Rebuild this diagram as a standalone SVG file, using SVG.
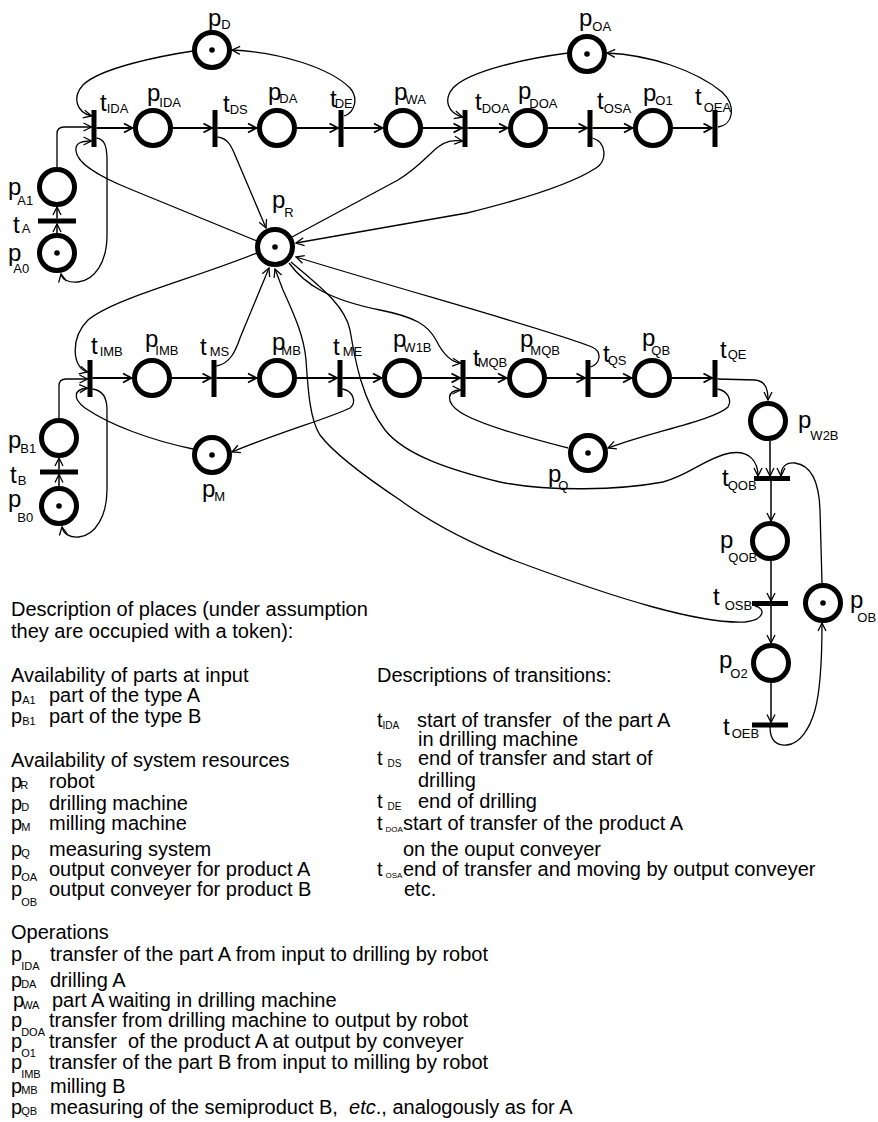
<svg xmlns="http://www.w3.org/2000/svg" width="878" height="1122" viewBox="0 0 878 1122">
<style>
.pl{fill:#fff;stroke:#000;stroke-width:5}
.tk{fill:#000}
.tr{fill:#000}
.arc{fill:none;stroke:#000;stroke-width:1.3;marker-end:url(#a)}
.mn{fill:none;stroke:#000;stroke-width:2;marker-end:url(#m)}
.vn{fill:none;stroke:#000;stroke-width:1.5;marker-end:url(#a)}
.lb{font-family:"Liberation Sans",Arial,sans-serif;font-size:24px;fill:#000}
.sb{font-size:13px}
.d{font-family:"Liberation Sans",Arial,sans-serif;font-size:20px;fill:#000;white-space:pre}
.ds{font-size:11px}
.dt{font-size:10px}
.dv{font-size:8px}
</style>
<defs>
<marker id="a" viewBox="-10 -6 12 12" refX="0" refY="0" markerWidth="12" markerHeight="12" markerUnits="userSpaceOnUse" orient="auto"><path d="M-8,-4 L0,0 L-8,4" fill="none" stroke="#000" stroke-width="1.3"/></marker>
<marker id="m" viewBox="-11 -6 13 12" refX="0" refY="0" markerWidth="13" markerHeight="12" markerUnits="userSpaceOnUse" orient="auto"><path d="M-9,-4.5 L-0.5,0 L-9,4.5" fill="none" stroke="#000" stroke-width="1.8"/></marker>
</defs>

<g id="connectors">
<path class="mn" d="M96.5,128 L133,128"/>
<path class="mn" d="M173,128 L212.5,128"/>
<path class="mn" d="M217.5,128 L257,128"/>
<path class="mn" d="M297,128 L338.5,128"/>
<path class="mn" d="M343.5,128 L383,128"/>
<path class="mn" d="M423,128 L462.5,128"/>
<path class="mn" d="M467.5,128 L508,128"/>
<path class="mn" d="M548,128 L587.5,128"/>
<path class="mn" d="M592.5,128 L633,128"/>
<path class="mn" d="M673,128 L712.5,128"/>
<path class="mn" d="M92.5,378 L132,378"/>
<path class="mn" d="M172,378 L211.5,378"/>
<path class="mn" d="M216.5,378 L257,378"/>
<path class="mn" d="M297,378 L337.5,378"/>
<path class="mn" d="M342.5,378 L382,378"/>
<path class="mn" d="M422,378 L460.5,378"/>
<path class="mn" d="M465.5,378 L507,378"/>
<path class="mn" d="M547,378 L585.5,378"/>
<path class="mn" d="M590.5,378 L632,378"/>
<path class="mn" d="M672,378 L712.5,378"/>
<path class="vn" d="M57,233 L57,224"/>
<path class="vn" d="M57,218.5 L57,207"/>
<path class="vn" d="M59,486 L59,474.5"/>
<path class="vn" d="M59,469.5 L59,458"/>
<path class="vn" d="M770,441 L770,476"/>
<path class="vn" d="M771,481 L771,521"/>
<path class="vn" d="M771,561 L771,601"/>
<path class="vn" d="M771,606 L771,643"/>
<path class="vn" d="M771,683 L771,722.5"/>
<path class="arc" d="M193,51 C160,56 100,68 83,85 C72,97 76,112 91.5,116"/>
<path class="arc" d="M344,116 C356,112 358,97 350,88 C330,68 280,52 232,50"/>
<path class="arc" d="M568,53 C530,58 470,70 453,88 C443,100 448,113 462.5,117"/>
<path class="arc" d="M718,127 C733,125 737,106 722,92 C695,70 650,55 607,53"/>
<path class="arc" d="M57,167 L57,134 Q57,127 64,127 L91.5,127"/>
<path class="arc" d="M96.5,138 C104,139 107,145 107,160 L107,235 C107,262 95,280 78,282 C68,283 62,279 61,274"/>
<path class="arc" d="M257,241 L130,189 C100,177 77,163 76,151 C75,143 81,141 91.5,141"/>
<path class="arc" d="M217.5,137 C227,138 231,145 235,155 L266,228"/>
<path class="arc" d="M292,237 L398,180 C418,168 428,155 438,147 C446,141 452,140 462.5,141"/>
<path class="arc" d="M592.5,138 C606,142 608,160 596,168 C570,185 520,200 467,213 L296,243"/>
<path class="arc" d="M257,253 C190,280 115,298 88,320 C70,338 72,368 87.5,372"/>
<path class="arc" d="M216.5,366 C230,364 236,350 240,338 L269,268"/>
<path class="arc" d="M59,418 L59,386 Q59,379 66,379 L87.5,379"/>
<path class="arc" d="M193,449 C150,440 110,425 85,408 C72,398 74,389 87.5,388"/>
<path class="arc" d="M92.5,389 C101,390 107,395 107,410 L107,490 C107,515 96,535 79,537 C69,538 63,533 62,527"/>
<path class="arc" d="M342.5,389 C353,391 357,402 350,408 C330,418 280,432 232,452"/>
<path class="arc" d="M289,263 C305,285 330,300 380,310 C415,317 428,325 436,340 C442,352 450,362 460.5,363"/>
<path class="arc" d="M590.5,367 C600,364 603,352 592,347 C550,330 420,295 296,257"/>
<path class="arc" d="M291,262 C318,285 345,305 350,330 C355,360 362,400 385,430 C405,455 450,470 500,482 C550,492 620,490 663,482 C690,475 705,458 730,453 C750,450 758,462 758,476"/>
<path class="arc" d="M755,606 C766,608 765,620 745,622 C700,624 620,600 513,560 C470,543 430,522 400,500 C370,480 335,455 320,435 C310,420 308,390 306,360 C304,335 292,310 283,290 L275,269"/>
<path class="arc" d="M717.5,379 L755,380 C765,381 768,388 768,400"/>
<path class="arc" d="M717.5,389 C728,391 732,400 728,407 C715,420 650,432 608,448"/>
<path class="arc" d="M568,448 C530,438 480,425 460,412 C445,402 447,390 460.5,390"/>
<path class="arc" d="M822,583 L820,510 C819,480 810,465 795,463 C785,462 781,468 781,476"/>
<path class="arc" d="M770,727 C770,740 776,746 787,745 C800,744 810,728 815,710 C820,692 822,665 822,623"/>
</g>

<g id="pD"><circle class="pl" cx="212" cy="50" r="17.5"/><circle class="tk" cx="212" cy="50" r="2.8"/><text class="lb" x="208" y="26">p<tspan class="sb" dy="3">D</tspan></text></g>
<g id="pOA"><circle class="pl" cx="587" cy="54" r="17.5"/><circle class="tk" cx="587" cy="54" r="2.8"/><text class="lb" x="579" y="26">p<tspan class="sb" dy="5">OA</tspan></text></g>
<g id="pIDA"><circle class="pl" cx="153" cy="128" r="17.5"/><text class="lb" x="147" y="101">p<tspan class="sb" dy="6" dx="-1">IDA</tspan></text></g>
<g id="pDA"><circle class="pl" cx="277" cy="128" r="17.5"/><text class="lb" x="268" y="100">p<tspan class="sb" dy="3" dx="-2">DA</tspan></text></g>
<g id="pWA"><circle class="pl" cx="403" cy="128" r="17.5"/><text class="lb" x="394" y="100">p<tspan class="sb" dy="4" dx="-2">WA</tspan></text></g>
<g id="pDOA"><circle class="pl" cx="528" cy="128" r="17.5"/><text class="lb" x="518" y="99">p<tspan class="sb" dy="9" dx="-2">DOA</tspan></text></g>
<g id="pO1"><circle class="pl" cx="653" cy="128" r="17.5"/><text class="lb" x="643" y="101">p<tspan class="sb" dy="4" dx="-1">O1</tspan></text></g>
<g id="pA1"><circle class="pl" cx="57" cy="187" r="17.5"/><text class="lb" x="8" y="195">p<tspan class="sb" dy="10" dx="-4">A1</tspan></text></g>
<g id="pA0"><circle class="pl" cx="57" cy="253" r="17.5"/><circle class="tk" cx="57" cy="253" r="2.8"/><text class="lb" x="8" y="261">p<tspan class="sb" dy="12" dx="-8">A0</tspan></text></g>
<g id="pR"><circle class="pl" cx="275" cy="247" r="17.5"/><circle class="tk" cx="275" cy="247" r="2.8"/><text class="lb" x="272" y="208">p<tspan class="sb" dy="9" dx="-1">R</tspan></text></g>

<g id="tIDA"><rect class="tr" x="91.5" y="110" width="5" height="37"/><text class="lb" x="100" y="111">t<tspan class="sb" dy="2">IDA</tspan></text></g>
<g id="tDS"><rect class="tr" x="212.5" y="110" width="5" height="37"/><text class="lb" x="223" y="112">t<tspan class="sb" dy="1.5">DS</tspan></text></g>
<g id="tDE"><rect class="tr" x="338.5" y="110" width="5" height="37"/><text class="lb" x="330" y="107">t<tspan class="sb" dy="1" dx="-2">DE</tspan></text></g>
<g id="tDOA"><rect class="tr" x="462.5" y="110" width="5" height="37"/><text class="lb" x="475" y="110">t<tspan class="sb" dy="3">DOA</tspan></text></g>
<g id="tOSA"><rect class="tr" x="587.5" y="110" width="5" height="37"/><text class="lb" x="597" y="109">t<tspan class="sb" dy="4">OSA</tspan></text></g>
<g id="tOEA"><rect class="tr" x="712.5" y="110" width="5" height="37"/><text class="lb" x="695" y="105">t<tspan class="sb" dy="7" dx="2">OEA</tspan></text></g>
<g id="tA"><rect class="tr" x="38" y="218.5" width="38" height="5"/><text class="lb" x="13" y="233">t<tspan class="sb" dx="2">A</tspan></text></g>

<g id="pIMB"><circle class="pl" cx="152" cy="378" r="17.5"/><text class="lb" x="145" y="347">p<tspan class="sb" dy="8" dx="-3">IMB</tspan></text></g>
<g id="pMB"><circle class="pl" cx="277" cy="378" r="17.5"/><text class="lb" x="272" y="350">p<tspan class="sb" dy="5" dx="-4">MB</tspan></text></g>
<g id="pW1B"><circle class="pl" cx="402" cy="378" r="17.5"/><text class="lb" x="393" y="347">p<tspan class="sb" dy="5" dx="-3">W1B</tspan></text></g>
<g id="pMQB"><circle class="pl" cx="527" cy="378" r="17.5"/><text class="lb" x="520" y="347">p<tspan class="sb" dy="8" dx="-3">MQB</tspan></text></g>
<g id="pQB"><circle class="pl" cx="652" cy="378" r="17.5"/><text class="lb" x="642" y="346">p<tspan class="sb" dy="9" dx="-4">QB</tspan></text></g>
<g id="pM"><circle class="pl" cx="212" cy="455" r="17.5"/><circle class="tk" cx="212" cy="455" r="2.8"/><text class="lb" x="202" y="497">p<tspan class="sb" dy="4" dx="-1">M</tspan></text></g>
<g id="pQ"><circle class="pl" cx="588" cy="453" r="17.5"/><circle class="tk" cx="588" cy="453" r="2.8"/><text class="lb" x="548" y="482">p<tspan class="sb" dy="8" dx="-3">Q</tspan></text></g>
<g id="pB1"><circle class="pl" cx="59" cy="438" r="17.5"/><text class="lb" x="8" y="448">p<tspan class="sb" dy="5" dx="-1">B1</tspan></text></g>
<g id="pB0"><circle class="pl" cx="59" cy="506" r="17.5"/><circle class="tk" cx="59" cy="506" r="2.8"/><text class="lb" x="8" y="507">p<tspan class="sb" dy="15" dx="-4">B0</tspan></text></g>
<g id="pW2B"><circle class="pl" cx="768" cy="421" r="17.5"/><text class="lb" x="798" y="428">p<tspan class="sb" dy="12" dx="-1">W2B</tspan></text></g>
<g id="pQOB"><circle class="pl" cx="770" cy="541" r="17.5"/><text class="lb" x="720" y="548">p<tspan class="sb" dy="14" dx="-5">QOB</tspan></text></g>
<g id="pO2"><circle class="pl" cx="771" cy="663" r="17.5"/><text class="lb" x="719" y="668">p<tspan class="sb" dy="10" dx="-2">O2</tspan></text></g>
<g id="pOB"><circle class="pl" cx="823" cy="603" r="17.5"/><circle class="tk" cx="823" cy="603" r="2.8"/><text class="lb" x="850" y="608">p<tspan class="sb" dy="14" dx="-6">OB</tspan></text></g>

<g id="tIMB"><rect class="tr" x="87.5" y="360" width="5" height="37"/><text class="lb" x="91" y="354">t<tspan class="sb" dy="2" dx="2">IMB</tspan></text></g>
<g id="tMS"><rect class="tr" x="211.5" y="360" width="5" height="37"/><text class="lb" x="200" y="355">t<tspan class="sb" dy="1" dx="3">MS</tspan></text></g>
<g id="tME"><rect class="tr" x="337.5" y="360" width="5" height="37"/><text class="lb" x="333" y="355">t<tspan class="sb" dy="1" dx="3">ME</tspan></text></g>
<g id="tMQB"><rect class="tr" x="460.5" y="360" width="5" height="37"/><text class="lb" x="473" y="366">t<tspan class="sb" dy="1" dx="-2">MQB</tspan></text></g>
<g id="tQS"><rect class="tr" x="585.5" y="360" width="5" height="37"/><text class="lb" x="603" y="362">t<tspan class="sb" dy="3" dx="-2">QS</tspan></text></g>
<g id="tQE"><rect class="tr" x="712.5" y="360" width="5" height="37"/><text class="lb" x="720" y="358">t<tspan class="sb" dy="1" dx="1">QE</tspan></text></g>
<g id="tB"><rect class="tr" x="40" y="469.5" width="38" height="5"/><text class="lb" x="10" y="483">t<tspan class="sb" dy="2" dx="1">B</tspan></text></g>
<g id="tQOB"><rect class="tr" x="754" y="476" width="36" height="5"/><text class="lb" x="722" y="486">t<tspan class="sb" dy="4" dx="-1">QOB</tspan></text></g>
<g id="tOSB"><rect class="tr" x="752" y="601" width="36" height="5"/><text class="lb" x="713" y="605">t<tspan class="sb" dy="5" dx="5">OSB</tspan></text></g>
<g id="tOEB"><rect class="tr" x="752" y="722.5" width="36" height="5"/><text class="lb" x="723" y="735">t<tspan class="sb" dy="3" dx="2">OEB</tspan></text></g>

<g id="desc-places">
<text class="d" x="11" y="616">Description of places (under assumption</text>
<text class="d" x="11" y="638">they are occupied with a token):</text>
<text class="d" x="11" y="682">Availability of parts at input</text>
<text class="d" x="11" y="702">p<tspan class="ds" dy="2">A1</tspan></text><text class="d" x="49" y="702">part of the type A</text>
<text class="d" x="11" y="723">p<tspan class="ds" dy="2">B1</tspan></text><text class="d" x="49" y="723">part of the type B</text>
<text class="d" x="11" y="767">Availability of system resources</text>
<text class="d" x="11" y="788">p<tspan class="ds" dy="1" dx="-2">R</tspan></text><text class="d" x="49" y="788">robot</text>
<text class="d" x="11" y="810">p<tspan class="ds" dy="1" dx="-1">D</tspan></text><text class="d" x="49" y="810">drilling machine</text>
<text class="d" x="11" y="830">p<tspan class="ds" dy="1" dx="-1">M</tspan></text><text class="d" x="49" y="830">milling machine</text>
<text class="d" x="11" y="856">p<tspan class="ds" dy="1" dx="-1">Q</tspan></text><text class="d" x="49" y="856">measuring system</text>
<text class="d" x="11" y="876">p<tspan class="ds" dy="5" dx="-1">OA</tspan></text><text class="d" x="49" y="876">output conveyer for product A</text>
<text class="d" x="11" y="896">p<tspan class="ds" dy="10" dx="-1">OB</tspan></text><text class="d" x="49" y="896">output conveyer for product B</text>
<text class="d" x="11" y="939">Operations</text>
<text class="d" x="11" y="961">p<tspan class="ds" dy="9" dx="-1">IDA</tspan></text><text class="d" x="50" y="961">transfer of the part A from input to drilling by robot</text>
<text class="d" x="11" y="987">p<tspan class="ds" dy="1" dx="-1">DA</tspan></text><text class="d" x="50" y="987">drilling A</text>
<text class="d" x="13" y="1007">p<tspan class="ds" dy="2" dx="-2">WA</tspan></text><text class="d" x="52" y="1007">part A waiting in drilling machine</text>
<text class="d" x="11" y="1027">p<tspan class="ds" dy="9" dx="-1">DOA</tspan></text><text class="d" x="49" y="1027">transfer from drilling machine to output by robot</text>
<text class="d" x="11" y="1048">p<tspan class="ds" dy="9" dx="-1">O1</tspan></text><text class="d" x="49" y="1048">transfer  of the product A at output by conveyer</text>
<text class="d" x="11" y="1069">p<tspan class="ds" dy="9" dx="-1">IMB</tspan></text><text class="d" x="49" y="1069">transfer of the part B from input to milling by robot</text>
<text class="d" x="11" y="1093">p<tspan class="ds" dy="1" dx="-1">MB</tspan></text><text class="d" x="50" y="1093">milling B</text>
<text class="d" x="11" y="1114">p<tspan class="ds" dy="1" dx="-1">QB</tspan></text><text class="d" x="50" y="1114">measuring of the semiproduct B,  <tspan font-style="italic">etc</tspan>., analogously as for A</text>
</g>

<g id="desc-transitions">
<text class="d" x="377" y="682">Descriptions of transitions:</text>
<text class="d" x="377" y="727">t<tspan class="dt" dy="2">IDA</tspan></text><text class="d" x="417" y="727">start of transfer  of the part A</text>
<text class="d" x="418" y="746">in drilling machine</text>
<text class="d" x="377" y="765">t<tspan class="dt" dy="2" dx="5">DS</tspan></text><text class="d" x="418" y="765">end of transfer and start of</text>
<text class="d" x="418" y="787">drilling</text>
<text class="d" x="377" y="808">t<tspan class="dt" dy="2" dx="5">DE</tspan></text><text class="d" x="418" y="808">end of drilling</text>
<text class="d" x="377" y="830">t<tspan class="dv" dy="2" dx="3">DOA</tspan></text><text class="d" x="403" y="830">start of transfer of the product A</text>
<text class="d" x="403" y="856">on the ouput conveyer</text>
<text class="d" x="377" y="876">t<tspan class="dv" dy="2" dx="3">OSA</tspan></text><text class="d" x="403" y="876">end of transfer and moving by output conveyer</text>
<text class="d" x="404" y="896">etc.</text>
</g>
</svg>
